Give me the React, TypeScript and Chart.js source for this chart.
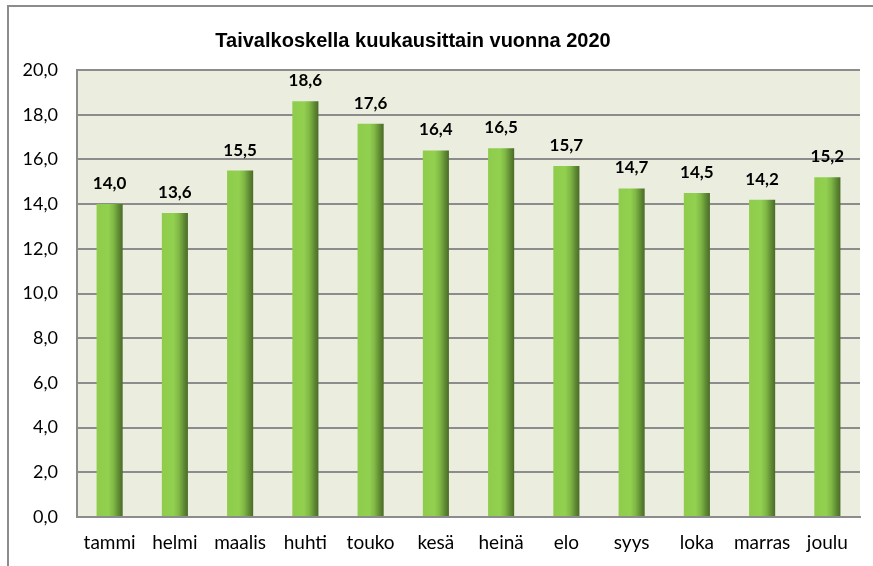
import React, { useEffect, useRef } from "react";
import { Chart, registerables } from "chart.js";

Chart.register(...registerables);

const TITLE = "Taivalkoskella kuukausittain vuonna 2020";
const MONTHS = ["tammi", "helmi", "maalis", "huhti", "touko", "kesä", "heinä", "elo", "syys", "loka", "marras", "joulu"];
const VALUES = [14.0, 13.6, 15.5, 18.6, 17.6, 16.4, 16.5, 15.7, 14.7, 14.5, 14.2, 15.2];
const Y_MIN = 0;
const Y_MAX = 20;
const Y_STEP = 2;

const fmt = (v: number) => v.toFixed(1).replace(".", ",");
const LABEL_FONT = "Lato, 'Open Sans', sans-serif";

const framePlugin = {
  id: "frame",
  beforeDraw(chart: any) {
    const { ctx, chartArea } = chart;
    ctx.save();
    ctx.fillStyle = "#ffffff";
    ctx.fillRect(0, 0, chart.width, chart.height);
    ctx.strokeStyle = "#8c8c8c";
    ctx.lineWidth = 2;
    ctx.strokeRect(8, 6, chart.width + 50, chart.height + 50);
    ctx.fillStyle = "#ebeedf";
    ctx.fillRect(chartArea.left, chartArea.top, chartArea.right - chartArea.left, chartArea.bottom - chartArea.top);
    ctx.fillStyle = "#000";
    ctx.font = "bold 20px 'Liberation Sans', Arial, sans-serif";
    ctx.textAlign = "center";
    ctx.textBaseline = "middle";
    ctx.fillText(TITLE, 413, 41);
    ctx.restore();
  },
  beforeDatasetsDraw(chart: any) {
    const { ctx } = chart;
    const meta = chart.getDatasetMeta(0);
    meta.data.forEach((bar: any) => {
      const w = bar.width;
      if (!isFinite(bar.x) || !isFinite(w)) return;
      const g = ctx.createLinearGradient(bar.x - w / 2, 0, bar.x + w / 2, 0);
      g.addColorStop(0, "#8fcc4c");
      g.addColorStop(0.45, "#92d050");
      g.addColorStop(0.65, "#80b845");
      g.addColorStop(0.85, "#5e8a33");
      g.addColorStop(1, "#4a6b27");
      bar.options = { ...bar.options, backgroundColor: g };
    });
  },
  afterDatasetsDraw(chart: any) {
    const { ctx } = chart;
    const meta = chart.getDatasetMeta(0);
    ctx.save();
    ctx.fillStyle = "#000";
    ctx.font = `bold 17px ${LABEL_FONT}`;
    ctx.textAlign = "center";
    ctx.textBaseline = "alphabetic";
    meta.data.forEach((bar: any, i: number) => {
      ctx.fillText(fmt(VALUES[i]), bar.x, bar.y - 15);
    });
    ctx.restore();
  },
};

export default function App() {
  const ref = useRef<HTMLCanvasElement>(null);
  useEffect(() => {
    document.body.style.margin = "0";
    const canvas = ref.current!;
    const chart = new Chart(canvas, {
      type: "bar",
      data: {
        labels: MONTHS,
        datasets: [
          {
            data: VALUES,
            barPercentage: 0.8,
            categoryPercentage: 0.5,
            backgroundColor: (c: any) => "#92d050",
            borderWidth: 0,
          },
        ],
      },
      options: {
        animation: false,
        responsive: false,
        layout: { padding: { top: 70, right: 13, left: 0, bottom: 0 } },
        plugins: { legend: { display: false }, tooltip: { enabled: false }, title: { display: false } },
        scales: {
          x: {
            grid: { display: false, drawTicks: false },
            border: { color: "#8c8c8c", width: 2 },
            ticks: {
              color: "#000",
              font: { family: LABEL_FONT, size: 19 },
              padding: 14,
              maxRotation: 0,
              minRotation: 0,
              autoSkip: false,
            },
            afterFit: (s: any) => {
              s.height = 49;
            },
          },
          y: {
            min: Y_MIN,
            max: Y_MAX,
            grid: { color: "#8c8c8c", lineWidth: 2, drawTicks: false },
            border: { color: "#8c8c8c", width: 2 },
            ticks: {
              stepSize: Y_STEP,
              color: "#000",
              font: { family: LABEL_FONT, size: 18 },
              padding: 19,
              callback: (v: any) => fmt(Number(v)),
            },
            afterFit: (s: any) => {
              s.width = 77;
            },
          },
        },
      },
      plugins: [framePlugin],
    });
    return () => chart.destroy();
  }, []);
  return <canvas ref={ref} width={873} height={566} style={{ display: "block" }} />;
}
